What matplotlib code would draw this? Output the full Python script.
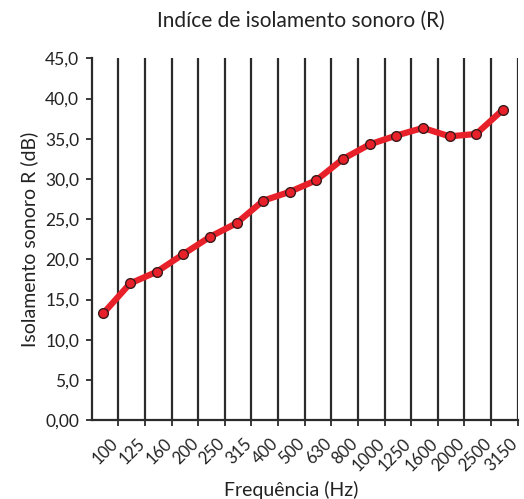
import matplotlib
matplotlib.use("Agg")
import matplotlib.pyplot as plt
import matplotlib.transforms as mtransforms
import numpy as np

plt.rcParams['font.family'] = ['Lato', 'DejaVu Sans']

freq_labels = ["100", "125", "160", "200", "250", "315", "400", "500", "630",
               "800", "1000", "1250", "1600", "2000", "2500", "3150"]
r_values = [13.3, 17.0, 18.45, 20.65, 22.8, 24.5, 27.3, 28.4, 29.85,
            32.5, 34.3, 35.4, 36.35, 35.3, 35.6, 38.6]
y_ticks = [0, 5, 10, 15, 20, 25, 30, 35, 40, 45]
y_tick_labels = ["0,00", "5,0", "10,0", "15,0", "20,0", "25,0", "30,0", "35,0", "40,0", "45,0"]

fig = plt.figure(figsize=(5.24, 4.99), dpi=100)
ax = fig.add_axes([0.175, 0.158, 0.813, 0.725])

n = len(freq_labels)
bounds = np.arange(1, n + 1)
xpts = np.arange(n) + 0.44

ax.vlines(bounds, 0, 45, color='#2b2b2b', linewidth=1.6, zorder=1)
ax.plot(xpts, r_values, color='#e8202a', linewidth=4.5, zorder=3,
        marker='o', markersize=7, markerfacecolor='#e8202a',
        markeredgecolor='#3a1a1a', markeredgewidth=1.0)

ax.set_xlim(0, n)
ax.set_ylim(0, 45)
ax.set_xticks(bounds)
ax.set_xticklabels(freq_labels, rotation=45, ha='right', va='center',
                   rotation_mode='anchor', fontsize=12, color='#222222')
ax.set_yticks(y_ticks)
ax.set_yticklabels(y_tick_labels, fontsize=12.5, color='#222222')

for s in ['top', 'right']:
    ax.spines[s].set_visible(False)
for s in ['left', 'bottom']:
    ax.spines[s].set_color('#2b2b2b')
    ax.spines[s].set_linewidth(1.6)
ax.tick_params(axis='both', direction='out', length=4, width=1.3, color='#2b2b2b')
ax.tick_params(axis='x', pad=11)
ax.tick_params(axis='y', pad=5)

offset = mtransforms.ScaledTranslation(-2.5 / 100, 0, fig.dpi_scale_trans)
for lbl in ax.get_xticklabels():
    lbl.set_transform(lbl.get_transform() + offset)

ax.set_xlabel("Frequência (Hz)", fontsize=14, color='#222222')
ax.xaxis.set_label_coords(0.468, -0.168)
ax.set_ylabel("Isolamento sonoro R (dB)", fontsize=14, color='#222222', labelpad=5)
fig.text(0.575, 0.958, "Indíce de isolamento sonoro (R)", ha='center', va='center',
         fontsize=15, color='#222222')

fig.savefig("out.png", dpi=100)
